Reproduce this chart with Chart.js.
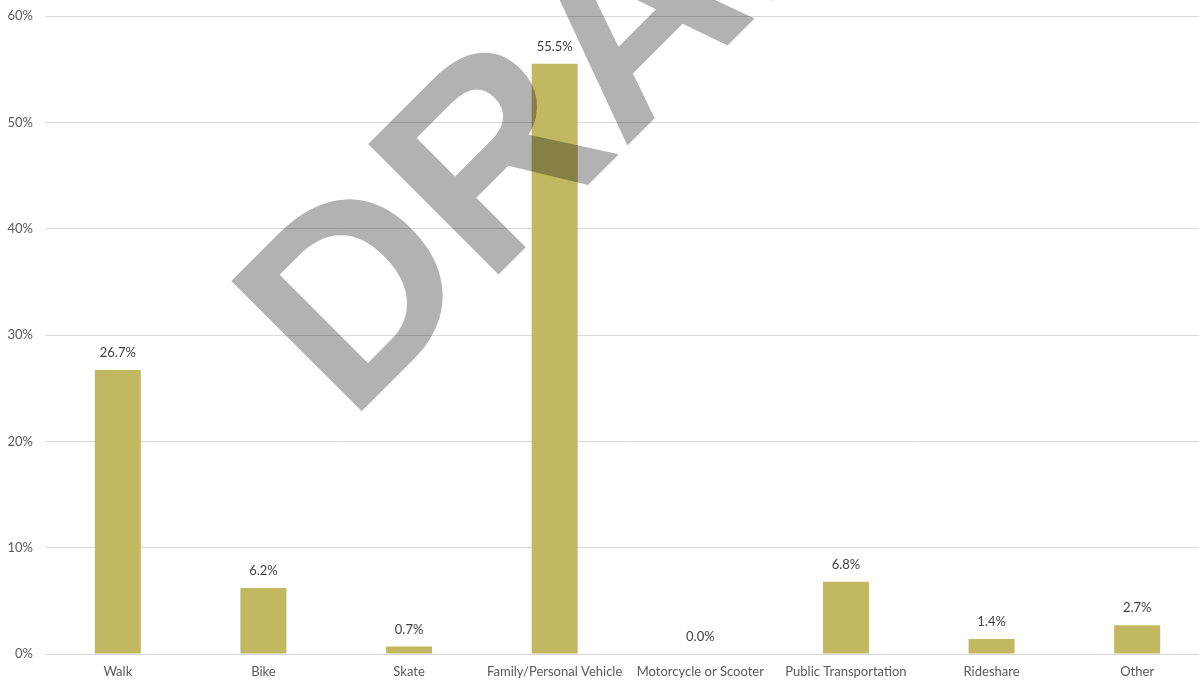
<!DOCTYPE html>
<html>
<head>
<meta charset="utf-8">
<script src="https://cdn.jsdelivr.net/npm/chart.js@4/dist/chart.umd.min.js"></script>
<style>
  html, body { margin: 0; padding: 0; background: #fff; overflow: hidden; }
  #wrap { width: 1212px; height: 683px; position: relative; }
</style>
</head>
<body>
<div id="wrap"><canvas id="c"></canvas></div>
<script>
// Commute mode shares (percent of respondents)
const categories = ['Walk', 'Bike', 'Skate', 'Family/Personal Vehicle', 'Motorcycle or Scooter', 'Public Transportation', 'Rideshare', 'Other'];
const shares = [26.7, 6.2, 0.7, 55.5, 0.0, 6.8, 1.4, 2.7];
const yTicks = [0, 10, 20, 30, 40, 50, 60];
const watermarkText = 'DRAFT';

const FONT = 'Lato, "Open Sans", sans-serif';

// Percentage labels above each bar
const valueLabels = {
  id: 'valueLabels',
  afterDatasetsDraw(chart) {
    const ctx = chart.ctx;
    const meta = chart.getDatasetMeta(0);
    ctx.save();
    ctx.font = '13px ' + FONT;
    ctx.fillStyle = '#404040';
    ctx.textAlign = 'center';
    ctx.textBaseline = 'middle';
    meta.data.forEach((bar, i) => {
      ctx.fillText(shares[i].toFixed(1) + '%', bar.x, bar.y - 17);
    });
    ctx.restore();
  }
};

// Diagonal translucent watermark over the plot
const watermark = {
  id: 'watermark',
  afterDraw(chart) {
    const ctx = chart.ctx;
    ctx.save();
    ctx.translate(349, 424);
    ctx.rotate(-Math.PI / 4);
    ctx.font = 'bold 268px "Liberation Sans", Arial, sans-serif';
    ctx.fillStyle = 'rgba(0,0,0,0.3)';
    ctx.textAlign = 'left';
    ctx.textBaseline = 'alphabetic';
    ctx.fillText(watermarkText, 0, 0);
    ctx.restore();
  }
};

new Chart(document.getElementById('c'), {
  type: 'bar',
  data: {
    labels: categories,
    datasets: [{
      data: shares,
      backgroundColor: '#C2B862',
      borderWidth: 0,
      categoryPercentage: 1,
      barPercentage: 0.316
    }]
  },
  options: {
    responsive: true,
    maintainAspectRatio: false,
    animation: false,
    layout: { autoPadding: false, padding: { top: 16, right: 2, bottom: 0, left: 0 } },
    plugins: { legend: { display: false }, tooltip: { enabled: false } },
    scales: {
      x: {
        grid: { display: false, drawTicks: false },
        border: { display: true, color: '#D9D9D9', width: 1 },
        ticks: { color: '#595959', font: { family: FONT, size: 13 }, padding: 10, maxRotation: 0, autoSkip: false },
        afterFit(s) { s.height = 29; }
      },
      y: {
        min: 0, max: 60,
        afterBuildTicks(s) { s.ticks = yTicks.map(v => ({ value: v })); },
        grid: { color: '#D9D9D9', drawTicks: false },
        border: { display: false },
        ticks: { color: '#595959', font: { family: FONT, size: 13 }, padding: 12, callback: v => v + '%' },
        afterFit(s) { s.width = 45; s.paddingTop = 0; s.paddingBottom = 0; }
      }
    }
  },
  plugins: [valueLabels, watermark]
});
</script>
</body>
</html>
